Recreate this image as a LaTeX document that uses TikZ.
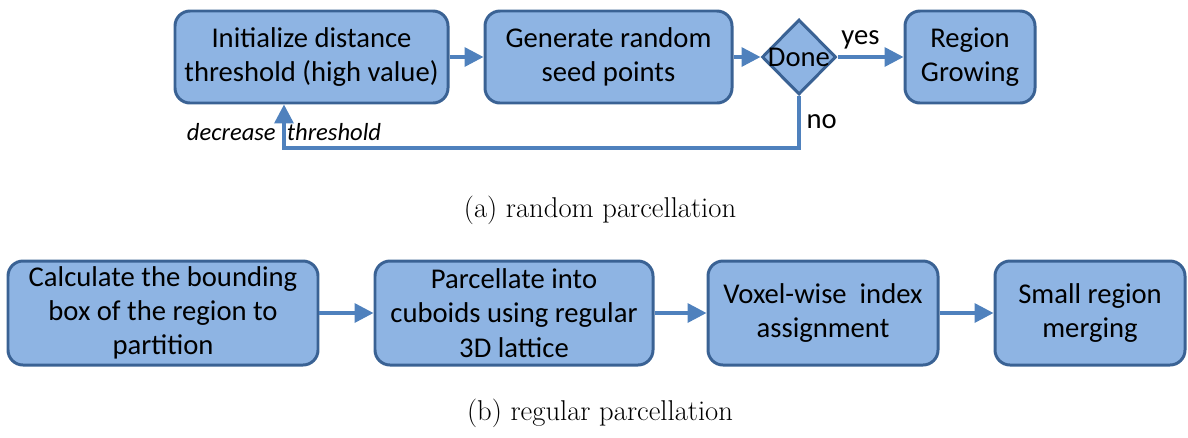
\documentclass[tikz,border=0pt]{standalone}
\usepackage{fontspec}
\newfontfamily\boxfont{Carlito}
\usetikzlibrary{shapes.geometric, arrows.meta}
\definecolor{boxfill}{HTML}{8EB4E3}
\definecolor{boxline}{HTML}{3A6294}
\definecolor{flowblue}{HTML}{4F81BD}
\tikzstyle{bluerectround} = [rectangle, rounded corners=0.3cm,
minimum height=1.84cm,
inner sep=2pt,
align=center,
fill=boxfill,
draw=boxline, line width=1.7pt,
font=\boxfont\fontsize{16.3}{19.5}\selectfont]
\tikzstyle{bluediamond} = [diamond,
minimum width=1.48cm,
minimum height=1.5cm,
inner sep=0pt,
fill=boxfill,
draw=boxline, line width=1.7pt]
\tikzstyle{flowarrow} = [draw=flowblue, line width=2pt, -{Triangle[length=0.38cm, width=0.38cm]}]
\tikzstyle{flowlabel} = [font=\boxfont\fontsize{16.3}{19.5}\selectfont]
\tikzstyle{caption} = [font=\fontsize{16.3}{19}\selectfont]

\begin{document}
\begin{tikzpicture}[node distance=2cm]
		\useasboundingbox (0,0) rectangle (23.76,-8.74);
		% (a) random parcellation
		\node (init) [bluerectround, minimum width=5.46cm] at (6.23,-1.14) {Initialize distance\\threshold (high value)};
		\node (seeds) [bluerectround, minimum width=4.94cm, right of=init, xshift=3.94cm] {Generate random\\seed points};
		\node (done) [bluediamond, right of=seeds, xshift=1.81cm, label={[flowlabel]center:Done}] {};
		\node (grow) [bluerectround, minimum width=2.6cm, right of=done, xshift=1.42cm] {Region\\Growing};
		
		\draw [flowarrow] (init) -- (seeds);
		\draw [flowarrow] (seeds) -- (done);
		\draw [flowarrow] (done) -- node [flowlabel, midway, above, xshift=-0.2cm] {yes} (grow);
		\draw [flowarrow] (done.south) -- node [flowlabel, midway, right] {no} ++(0,-1.04)
			-| node [pos=0.68, font=\boxfont\itshape\fontsize{14}{17}\selectfont] {decrease\ \ threshold} ([xshift=-0.55cm]init.south);
		
		\node (capa) [caption] at (12.0,-4.2) {(a) random parcellation};
		
		% (b) regular parcellation
		\node (bbox) [bluerectround, minimum width=6.2cm, minimum height=2.08cm] at (3.26,-6.26) {Calculate the bounding\\box of the region to\\partition};
		\node (lattice) [bluerectround, minimum width=5.56cm, minimum height=2.08cm, right of=bbox, xshift=5.02cm] {Parcellate into\\cuboids using regular\\3D lattice};
		\node (index) [bluerectround, minimum width=4.6cm, minimum height=2.08cm, right of=lattice, xshift=4.18cm] {Voxel-wise\ \ index\\assignment};
		\node (merge) [bluerectround, minimum width=3.8cm, minimum height=2.08cm, right of=index, xshift=3.34cm] {Small region\\merging};
		
		\draw [flowarrow] (bbox) -- (lattice);
		\draw [flowarrow] (lattice) -- (index);
		\draw [flowarrow] (index) -- (merge);
		
		\node (capb) [caption] at (12.0,-8.26) {(b) regular parcellation};
	\end{tikzpicture}
\end{document}
